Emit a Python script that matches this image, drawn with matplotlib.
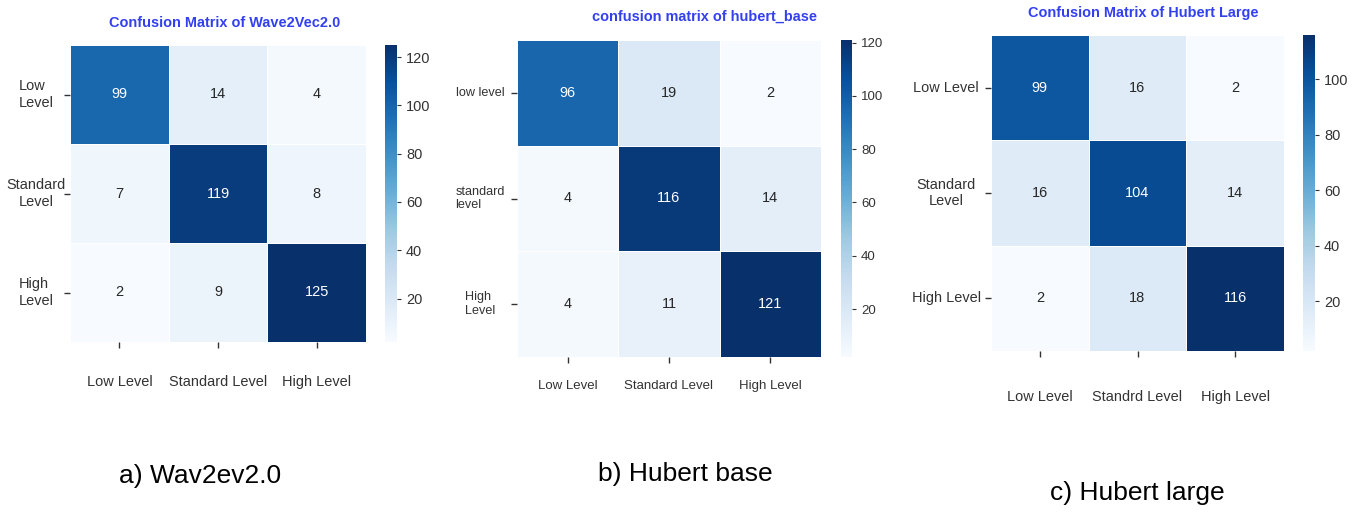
import numpy as np
import matplotlib
matplotlib.use("Agg")
import matplotlib.pyplot as plt
from matplotlib import font_manager as fm
import seaborn as sns

# ---- data ----
cm_wav2vec = [[99, 14, 4], [7, 119, 8], [2, 9, 125]]
cm_hubert_base = [[96, 19, 2], [4, 116, 14], [4, 11, 121]]
cm_hubert_large = [[99, 16, 2], [16, 104, 14], [2, 18, 116]]

xlabels_a = ["Low Level", "Standard Level", "High Level"]
ylabels_a = ["Low\nLevel", "Standard\nLevel", "High\nLevel"]
xlabels_b = ["Low Level", "Standard Level", "High Level"]
ylabels_b = ["low level", "standard\nlevel", "High\nLevel"]
xlabels_c = ["Low Level", "Standrd Level", "High Level"]
ylabels_c = ["Low Level", "Standard\nLevel", "High Level"]

titles = ["Confusion Matrix of Wave2Vec2.0", "confusion matrix of hubert_base",
          "Confusion Matrix of Hubert Large"]
captions = ["a) Wav2ev2.0", "b) Hubert base", "c) Hubert large"]

available = {f.name for f in fm.fontManager.ttflist}
if "Liberation Sans Narrow" in available:
    FONT = ["Liberation Sans Narrow", "DejaVu Sans"]
    S = 1.0
else:
    FONT = ["Liberation Sans", "DejaVu Sans"]
    S = 0.87
plt.rcParams['font.family'] = FONT

W, H = 1354, 512
fig = plt.figure(figsize=(W / 100, H / 100), dpi=100)
fig.patch.set_facecolor("white")


def px_axes(x0, y0, x1, y1):
    return fig.add_axes([x0 / W, 1 - y1 / H, (x1 - x0) / W, (y1 - y0) / H])


TITLE_COLOR = "#3340f0"
TXT = "#333333"
PX2PT = 72 / 100

panels = [
    dict(cm=cm_wav2vec, xl=xlabels_a, yl=ylabels_a, hm=(70, 45, 366, 342), cb=(385, 45, 397, 342),
         title_xy=(225, 23), cap_xy=(200, 476), xpad=19.5, ycenter=36,
         malign=["left", "center", "left"], fs=12, afs=12, cfs=12, yfs=12, tfs=12),
    dict(cm=cm_hubert_base, xl=xlabels_b, yl=ylabels_b, hm=(517, 40, 821, 357), cb=(841, 40, 852, 357),
         title_xy=(705, 17), cap_xy=(685, 474), xpad=12.5, ycenter=480,
         malign=["left", "left", "left"], fs=11, afs=12, cfs=11, yfs=10.5, tfs=12),
    dict(cm=cm_hubert_large, xl=xlabels_c, yl=ylabels_c, hm=(991, 35, 1284, 351), cb=(1303, 35, 1315, 351),
         title_xy=(1143, 13), cap_xy=(1137, 493), xpad=24, ycenter=946,
         malign=["center", "center", "center"], fs=12, afs=12, cfs=12, yfs=12, tfs=12),
]

TICKLEN = 4

for i, p in enumerate(panels):
    ax = px_axes(*p["hm"])
    cax = px_axes(*p["cb"])
    data = np.array(p["cm"])
    sns.heatmap(data, ax=ax, cbar_ax=cax, cmap="Blues", annot=True, fmt="d",
                annot_kws={"fontsize": p["afs"] * S}, linewidths=0.4, linecolor="white",
                xticklabels=p["xl"], yticklabels=p["yl"])
    ypad = (p["hm"][0] - p["ycenter"]) * PX2PT - TICKLEN
    ax.tick_params(axis="x", length=TICKLEN, width=1, pad=p["xpad"], labelsize=p["fs"] * S, colors=TXT)
    ax.tick_params(axis="y", length=TICKLEN, width=1, pad=ypad, labelsize=p["yfs"] * S, colors=TXT)
    plt.setp(ax.get_xticklabels(), rotation=0)
    for t, ma in zip(ax.get_yticklabels(), p["malign"]):
        t.set_rotation(0)
        t.set_horizontalalignment("center")
        t.set_multialignment(ma)
    cax.tick_params(labelsize=p["cfs"] * S, colors=TXT, length=3)
    for s in cax.spines.values():
        s.set_visible(False)
    fig.text(p["title_xy"][0] / W, 1 - p["title_xy"][1] / H, titles[i], color=TITLE_COLOR,
             fontsize=p["tfs"] * S, fontweight="bold", ha="center", va="center")
    fig.text(p["cap_xy"][0] / W, 1 - p["cap_xy"][1] / H, captions[i], color="black",
             fontsize=19, ha="center", va="center")

fig.savefig("out.png", dpi=100, facecolor="white")
